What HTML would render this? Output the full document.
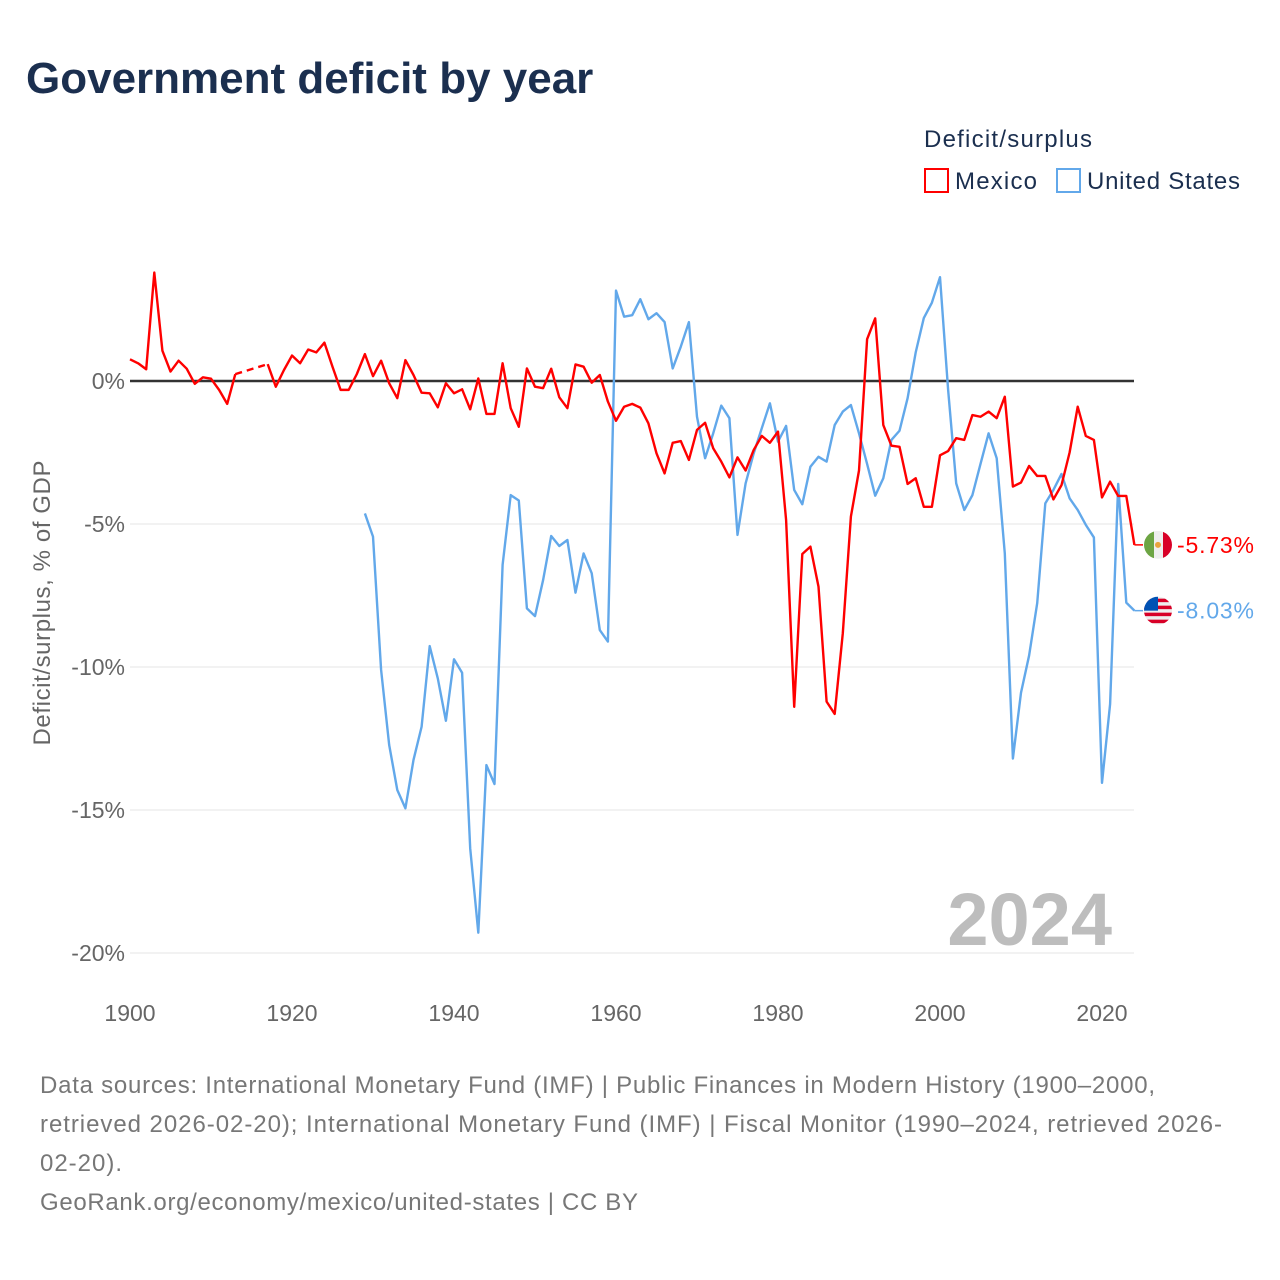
<!DOCTYPE html>
<html><head><meta charset="utf-8">
<style>
body{margin:0;background:#fff;font-family:"Liberation Sans",sans-serif;}
#wrap{position:relative;width:1280px;height:1280px;overflow:hidden;}
</style></head>
<body>
<div id="wrap">
<svg id="chart" width="1280" height="1280" style="font-family:'Liberation Sans',sans-serif">
<text x="26" y="93" font-size="44" font-weight="bold" fill="#1b2f4f">Government deficit by year</text>
<text x="924" y="147" font-size="24" fill="#1b2f4f" textLength="168">Deficit/surplus</text>
<g><rect x="925" y="169" width="23" height="23" fill="none" stroke="#f00" stroke-width="2"/><text x="955" y="189" font-size="24" fill="#1b2f4f" textLength="82">Mexico</text></g>
<g><rect x="1057" y="169" width="23" height="23" fill="none" stroke="#62a8ea" stroke-width="2"/><text x="1087" y="189" font-size="24" fill="#1b2f4f" textLength="153">United States</text></g>
<g id="grid"></g>
<g id="series"></g>
<text x="1112" y="945" font-size="74" font-weight="bold" fill="#bdbdbd" text-anchor="end">2024</text>
<text transform="translate(50,603) rotate(-90)" font-size="24" fill="#666" text-anchor="middle" textLength="285">Deficit/surplus, % of GDP</text>
<g font-size="24" fill="#777">
<text x="40" y="1093" textLength="1115">Data sources: International Monetary Fund (IMF) | Public Finances in Modern History (1900–2000,</text>
<text x="40" y="1132" textLength="1182">retrieved 2026-02-20); International Monetary Fund (IMF) | Fiscal Monitor (1990–2024, retrieved 2026-</text>
<text x="40" y="1171" textLength="82">02-20).</text>
<text x="40" y="1210" textLength="598">GeoRank.org/economy/mexico/united-states | CC BY</text>
</g>
</svg>
</div>
<script>
const yTicks=[0,-5,-10,-15,-20];
const xTicks=[1900,1920,1940,1960,1980,2000,2020];
const mexicoYears=[1900,1901,1902,1903,1904,1905,1906,1907,1908,1909,1910,1911,1912,1913,1914,1915,1916,1917,1918,1919,1920,1921,1922,1923,1924,1925,1926,1927,1928,1929,1930,1931,1932,1933,1934,1935,1936,1937,1938,1939,1940,1941,1942,1943,1944,1945,1946,1947,1948,1949,1950,1951,1952,1953,1954,1955,1956,1957,1958,1959,1960,1961,1962,1963,1964,1965,1966,1967,1968,1969,1970,1971,1972,1973,1974,1975,1976,1977,1978,1979,1980,1981,1982,1983,1984,1985,1986,1987,1988,1989,1990,1991,1992,1993,1994,1995,1996,1997,1998,1999,2000,2001,2002,2003,2004,2005,2006,2007,2008,2009,2010,2011,2012,2013,2014,2015,2016,2017,2018,2019,2020,2021,2022,2023,2024];
const mexicoValues=[0.76,0.62,0.41,3.79,1.06,0.33,0.71,0.43,-0.1,0.13,0.08,-0.31,-0.8,0.24,null,null,null,0.59,-0.2,0.38,0.89,0.62,1.1,1.0,1.34,0.5,-0.31,-0.31,0.24,0.94,0.17,0.71,-0.08,-0.6,0.73,0.21,-0.41,-0.43,-0.92,-0.08,-0.43,-0.29,-0.99,0.09,-1.15,-1.15,0.62,-0.95,-1.6,0.44,-0.2,-0.25,0.43,-0.57,-0.95,0.58,0.5,-0.06,0.21,-0.72,-1.39,-0.9,-0.8,-0.93,-1.48,-2.53,-3.23,-2.16,-2.1,-2.76,-1.71,-1.46,-2.35,-2.82,-3.37,-2.67,-3.13,-2.41,-1.92,-2.16,-1.77,-4.86,-11.39,-6.05,-5.79,-7.19,-11.21,-11.64,-8.82,-4.74,-3.13,1.46,2.19,-1.54,-2.26,-2.3,-3.6,-3.4,-4.4,-4.4,-2.6,-2.45,-2.0,-2.06,-1.19,-1.25,-1.07,-1.3,-0.55,-3.69,-3.55,-2.97,-3.32,-3.32,-4.14,-3.64,-2.5,-0.9,-1.92,-2.06,-4.07,-3.52,-4.02,-4.02,-5.73];
const usYears=[1929,1930,1931,1932,1933,1934,1935,1936,1937,1938,1939,1940,1941,1942,1943,1944,1945,1946,1947,1948,1949,1950,1951,1952,1953,1954,1955,1956,1957,1958,1959,1960,1961,1962,1963,1964,1965,1966,1967,1968,1969,1970,1971,1972,1973,1974,1975,1976,1977,1978,1979,1980,1981,1982,1983,1984,1985,1986,1987,1988,1989,1990,1991,1992,1993,1994,1995,1996,1997,1998,1999,2000,2001,2002,2003,2004,2005,2006,2007,2008,2009,2010,2011,2012,2013,2014,2015,2016,2017,2018,2019,2020,2021,2022,2023,2024];
const usValues=[-4.63,-5.44,-10.1,-12.73,-14.3,-14.94,-13.25,-12.09,-9.27,-10.4,-11.88,-9.73,-10.2,-16.34,-19.29,-13.43,-14.09,-6.43,-3.99,-4.18,-7.95,-8.22,-6.96,-5.42,-5.77,-5.56,-7.4,-6.03,-6.72,-8.71,-9.11,3.16,2.25,2.3,2.86,2.16,2.37,2.06,0.44,1.2,2.06,-1.25,-2.7,-1.83,-0.86,-1.3,-5.38,-3.58,-2.53,-1.65,-0.78,-2.12,-1.57,-3.81,-4.31,-3.0,-2.65,-2.82,-1.54,-1.07,-0.84,-1.83,-2.9,-4.01,-3.4,-2.06,-1.74,-0.6,1.0,2.2,2.74,3.63,-0.3,-3.58,-4.51,-3.99,-2.9,-1.83,-2.7,-6.03,-13.2,-10.9,-9.6,-7.77,-4.28,-3.81,-3.25,-4.1,-4.51,-5.03,-5.47,-14.05,-11.3,-3.6,-7.75,-8.03];

const NS='http://www.w3.org/2000/svg';
const X=y=>130+(y-1900)*8.1;
const Y=v=>381-v*28.6;
function mk(tag,attrs,parent){const e=document.createElementNS(NS,tag);for(const k in attrs)e.setAttribute(k,attrs[k]);parent.appendChild(e);return e;}
const grid=document.getElementById('grid'),series=document.getElementById('series');
yTicks.forEach(t=>{
  const l=mk('line',{x1:130,x2:1134,y1:Y(t),y2:Y(t),stroke:t===0?'#333':'#e4e4e4','stroke-width':t===0?2.5:1},grid);
  
  
  const tx=mk('text',{x:125,y:Y(t)+8,'text-anchor':'end','font-size':23,fill:'#666'},grid);
  tx.textContent=t+'%';
  
  
});
xTicks.forEach(t=>{
  const tx=mk('text',{x:X(t),y:1021,'text-anchor':'middle','font-size':23,fill:'#666'},grid);
  tx.textContent=t;
  
  
});
function drawSeries(years,vals,color,name){
  let segs=[],cur=[],last=null;
  years.forEach((yr,i)=>{const v=vals[i];
    if(v===null){if(cur.length){segs.push(cur);last=cur[cur.length-1];}cur=[];return;}
    const p=[X(yr),Y(v)];
    if(!cur.length&&last){const d=mk('path',{d:`M${last[0]},${last[1]}L${p[0]},${p[1]}`,fill:'none',stroke:color,'stroke-width':2.4,'stroke-dasharray':'7,5'},series);
      
      }
    cur.push(p);});
  if(cur.length)segs.push(cur);
  segs.forEach(s=>{const p=mk('path',{d:'M'+s.map(q=>q.join(',')).join('L'),fill:'none',stroke:color,'stroke-width':2.4,'stroke-linejoin':'round'},series);
    
    });
}
drawSeries(usYears,usValues,'#62a8ea','united-states');
drawSeries(mexicoYears,mexicoValues,'#ff0000','mexico');
function endLabel(v,color,name,flag){
  const yy=Y(v);
  const c=mk('line',{x1:X(2024),x2:1143,y1:yy,y2:yy,stroke:color,'stroke-width':1.5},series);
  
  
  const g=mk('g',{},series);
  
  
  g.innerHTML=flag(1158,yy);
  const t=mk('text',{x:1177,y:yy+8,'font-size':23,fill:color,textLength:77},series);
  t.textContent=v.toFixed(2)+'%';
  
  
}
endLabel(mexicoValues[mexicoValues.length-1],'#ff0000','mexico',(x,y)=>`<clipPath id="cm"><circle cx="${x}" cy="${y}" r="14"/></clipPath><g clip-path="url(#cm)"><rect x="${x-14}" y="${y-14}" width="10" height="28" fill="#6da544"/><rect x="${x-4}" y="${y-14}" width="9" height="28" fill="#eee"/><rect x="${x+5}" y="${y-14}" width="10" height="28" fill="#d80027"/><circle cx="${x}" cy="${y}" r="3" fill="#e8a33d"/></g>`);
endLabel(usValues[usValues.length-1],'#62a8ea','united-states',(x,y)=>{let s=`<clipPath id="cu"><circle cx="${x}" cy="${y}" r="14"/></clipPath><g clip-path="url(#cu)"><rect x="${x-14}" y="${y-14}" width="28" height="28" fill="#eee"/>`;for(let i=0;i<4;i++)s+=`<rect x="${x-14}" y="${y-12+i*7}" width="28" height="3.5" fill="#d80027"/>`;s+=`<rect x="${x-14}" y="${y-14}" width="14" height="14" fill="#0052b4"/></g>`;return s;});
</script>
</body></html>
